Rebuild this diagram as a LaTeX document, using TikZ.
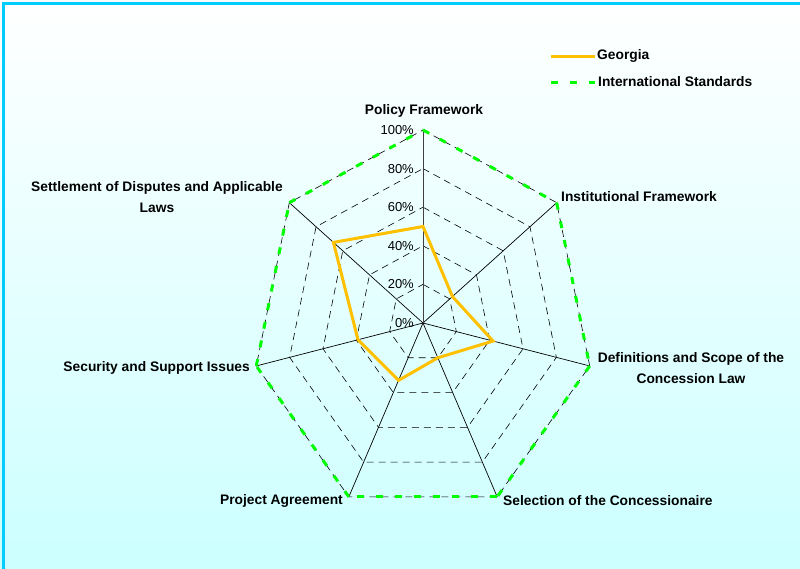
\documentclass[tikz,border=0pt]{standalone}
\usepackage{fontspec}
\setmainfont{Liberation Sans}
\usetikzlibrary{calc}
\definecolor{geocol}{RGB}{255,192,0}
\definecolor{intlcol}{RGB}{0,255,0}
\definecolor{framecol}{RGB}{0,204,255}
\definecolor{bgbot}{RGB}{204,255,255}
\begin{document}
\begin{tikzpicture}[x=1pt,y=-1pt,
  grid/.style={black, line width=0.6pt, dash pattern=on 7pt off 5pt},
  axisline/.style={black, line width=0.7pt},
  geo/.style={draw=geocol, line width=3pt, line join=miter},
  intl/.style={draw=intlcol, line width=3pt, dash pattern=on 7pt off 12pt},
  cat/.style={font=\bfseries\fontsize{13.8}{21}\selectfont, inner sep=0pt, align=center},
  pct/.style={font=\fontsize{13}{15}\selectfont, inner sep=0pt, anchor=east}]
\clip (0,0) rectangle (800,568);
\shade[top color=white, bottom color=bgbot] (0,0) rectangle (800,568);
\draw[framecol, line width=3.5pt] (3.5,3.5) rectangle (830,600);
% geometry
\coordinate (O) at (423,323);
\foreach \k in {0,...,6} {
  \pgfmathsetmacro\ang{90-\k*360/7}
  \coordinate (V\k) at ({423+171*cos(\ang)},{323-193*sin(\ang)});
}
% grid rings
\foreach \r in {0.2,0.4,0.6,0.8,1} {
  \draw[grid] ($(O)!\r!(V0)$) -- ($(O)!\r!(V1)$) -- ($(O)!\r!(V2)$) -- ($(O)!\r!(V3)$)
    -- ($(O)!\r!(V4)$) -- ($(O)!\r!(V5)$) -- ($(O)!\r!(V6)$) -- cycle;
}
% axes
\foreach \k in {1,...,6} \draw[axisline] (O) -- (V\k);
\draw[black!75, line width=0.8pt] (O) -- (V0);
% percent labels
\foreach \p/\r in {0/0,20/0.2,40/0.4,60/0.6,80/0.8,100/1}
  \node[pct] (pct\p) at (414,{323-193*\r}) {\p\%};
% Georgia series
\draw[geo] ($(O)!0.50!(V0)$) -- ($(O)!0.22!(V1)$) -- ($(O)!0.42!(V2)$) -- ($(O)!0.20!(V3)$)
  -- ($(O)!0.33!(V4)$) -- ($(O)!0.39!(V5)$) -- ($(O)!0.67!(V6)$) -- cycle;
% International standards series
\foreach \a/\b in {0/1,1/2,2/3,3/4,4/5,5/6,6/0}
  \draw[intl] (V\a) -- (V\b);
% category labels
\node[cat] (c0) at (424,111) {Policy Framework};
\node[cat, anchor=west] (c1) at (561,197) {Institutional Framework};
\node[cat] (c2) at (691,368) {Definitions and Scope of the\\Concession Law};
\node[cat, anchor=west] (c3) at (503,501) {Selection of the Concessionaire};
\node[cat, anchor=east] (c4) at (343,501) {Project Agreement};
\node[cat, anchor=east] (c5) at (250,368) {Security and Support Issues};
\node[cat] (c6) at (157,197) {Settlement of Disputes and Applicable\\Laws};
% legend
\coordinate (la1) at (551,56); \coordinate (lb1) at (595,56);
\coordinate (la2) at (551,82); \coordinate (lb2) at (595,82);
\draw[geo] (la1) -- (lb1);
\draw[intl] (la2) -- (lb2);
\node[cat, anchor=west] (lt1) at (597,56) {Georgia};
\node[cat, anchor=west] (lt2) at (598,82) {International Standards};
\end{tikzpicture}
\end{document}
